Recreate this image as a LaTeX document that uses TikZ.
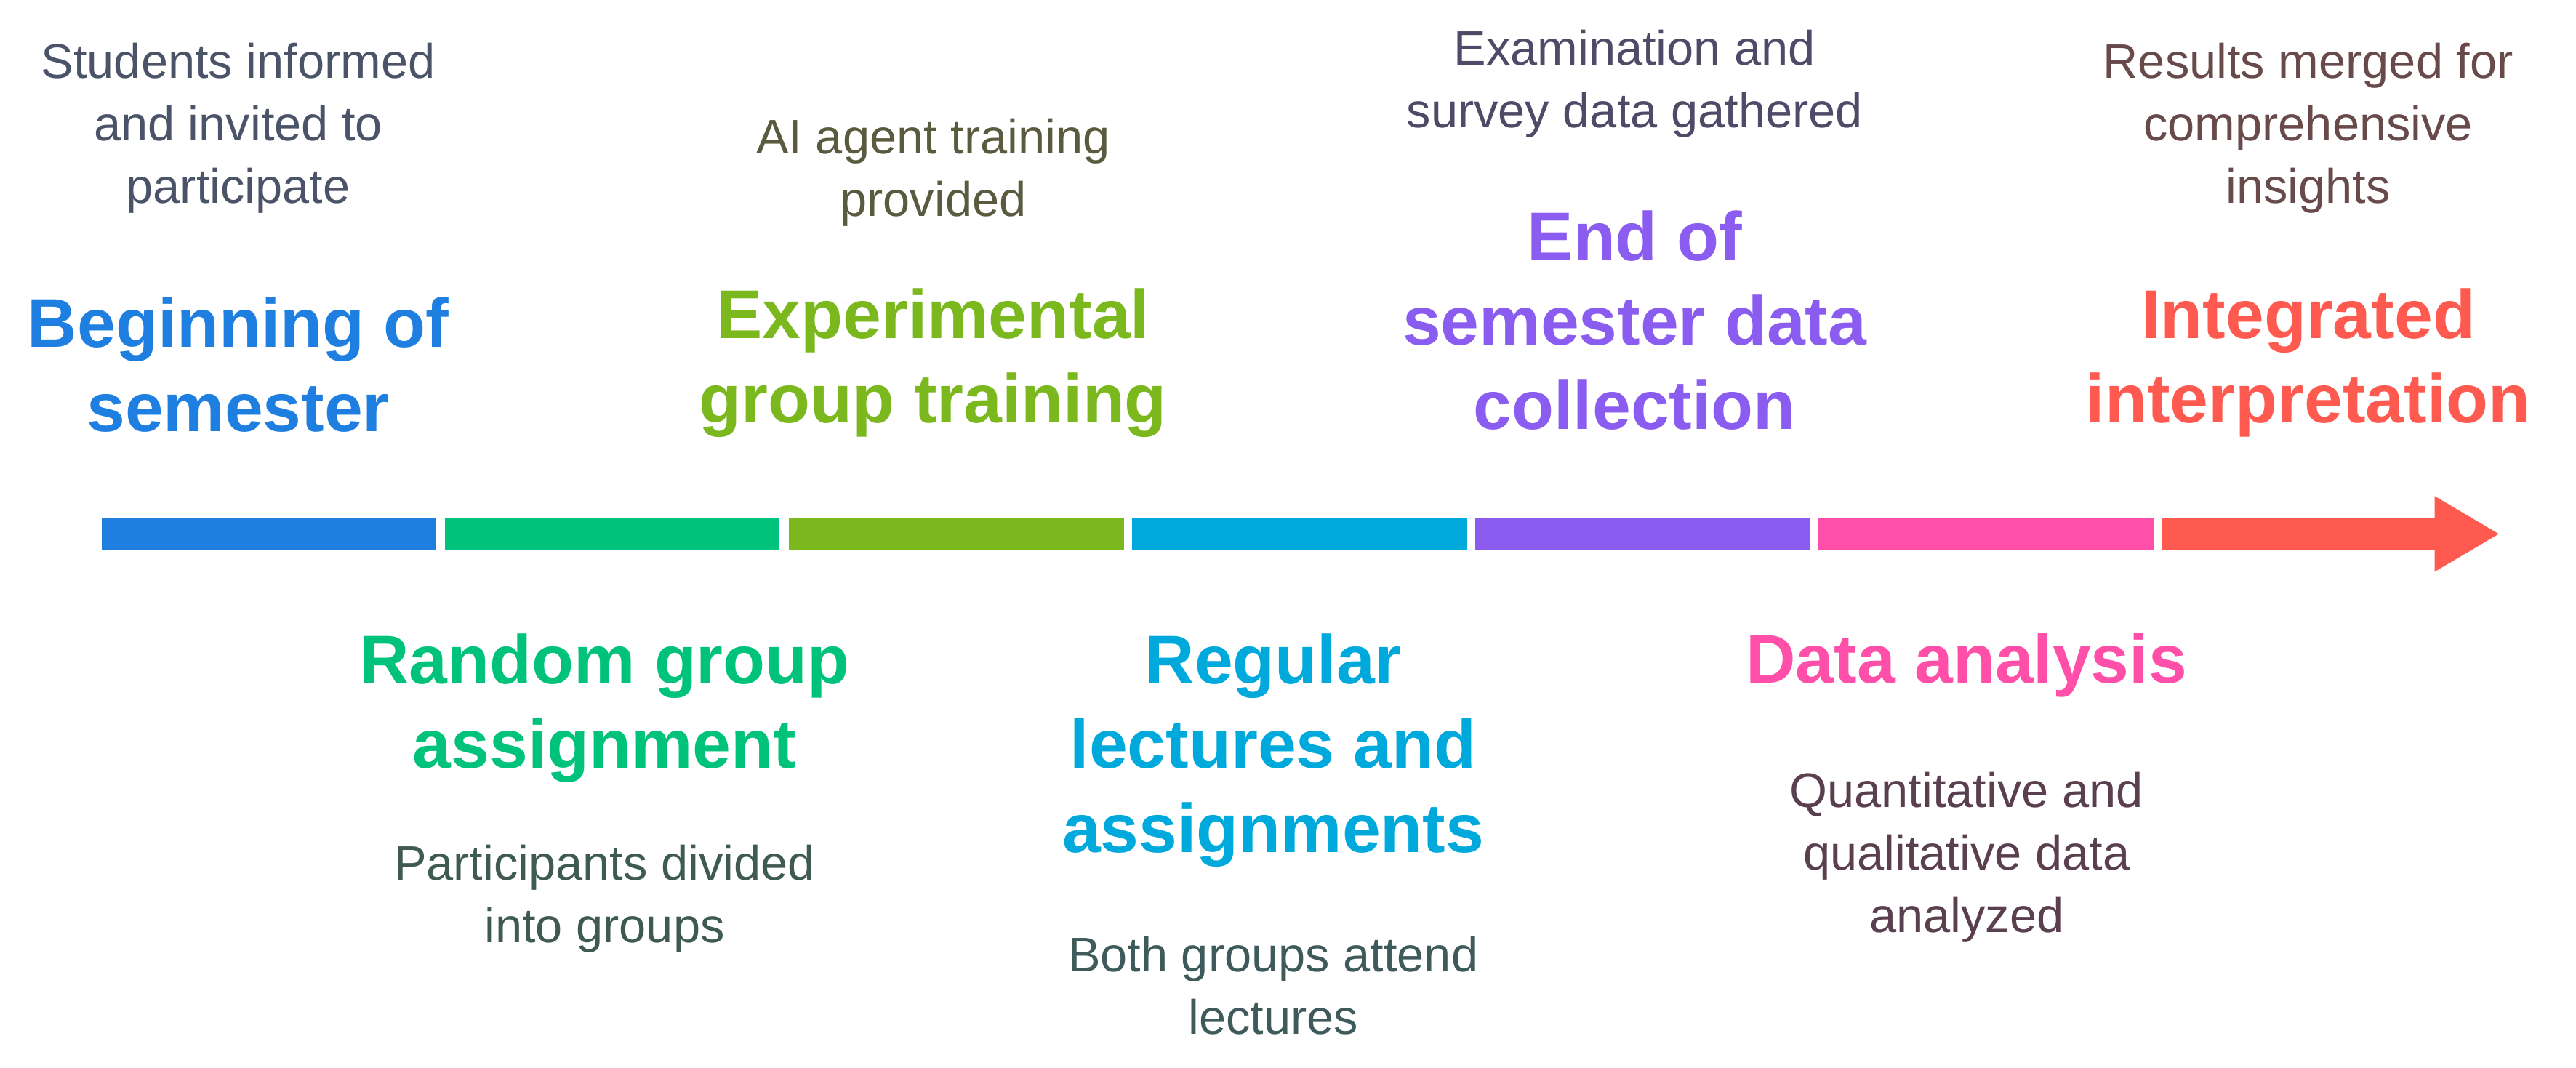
\documentclass[tikz,border=0pt]{standalone}
\usepackage{fontspec}
\setmainfont{Liberation Sans}
\begin{document}
\begin{tikzpicture}[x=0.0226cm,y=-0.0226cm,
 ttl/.style={font=\fontsize{27}{33}\selectfont\bfseries,align=center,inner sep=0},
 dsc/.style={font=\fontsize{19}{24.5}\selectfont,align=center,inner sep=0},
 seg/.style={line width=0.0226cm*20}]
\useasboundingbox (0,0) rectangle (1568,650);
\definecolor{c1}{HTML}{1E7FE0}\definecolor{c2}{HTML}{00C27A}\definecolor{c3}{HTML}{7AB81E}
\definecolor{c4}{HTML}{00A9DC}\definecolor{c5}{HTML}{8B5CF0}\definecolor{c6}{HTML}{FF4FA8}\definecolor{c7}{HTML}{FF5A4F}
\coordinate (s0) at (62,325);\coordinate (e0) at (265,325);
\coordinate (s1) at (271,325);\coordinate (e1) at (474,325);
\coordinate (s2) at (480,325);\coordinate (e2) at (684,325);
\coordinate (s3) at (689,325);\coordinate (e3) at (893,325);
\coordinate (s4) at (898,325);\coordinate (e4) at (1102,325);
\coordinate (s5) at (1107,325);\coordinate (e5) at (1311,325);
\coordinate (s6) at (1316,325);\coordinate (e6) at (1484,325);\coordinate (tip) at (1521,325);
\draw[seg,c1] (s0)--(e0); \draw[seg,c2] (s1)--(e1); \draw[seg,c3] (s2)--(e2);
\draw[seg,c4] (s3)--(e3); \draw[seg,c5] (s4)--(e4); \draw[seg,c6] (s5)--(e5);
\draw[seg,c7] (s6)--(e6);
\fill[c7] (1482,302) -- (tip) -- (1482,348) -- cycle;
\node[ttl,text=c1] (t1) at (145,222) {Beginning of\\semester};
\node[dsc,text={rgb,255:red,74;green,83;blue,104}] (d1) at (145,78) {Students informed\\and invited to\\participate};
\node[ttl,text=c2] (t2) at (368,431) {Random group\\assignment};
\node[dsc,text={rgb,255:red,63;green,90;blue,79}] (d2) at (368,547) {Participants divided\\into groups};
\node[ttl,text=c3] (t3) at (568,221) {Experimental\\group training};
\node[dsc,text={rgb,255:red,90;green,90;blue,63}] (d3) at (568,105) {AI agent training\\provided};
\node[ttl,text=c4] (t4) at (775,457) {Regular\\lectures and\\assignments};
\node[dsc,text={rgb,255:red,63;green,90;blue,90}] (d4) at (775,600) {Both groups attend\\lectures};
\node[ttl,text=c5] (t5) at (995,195) {End of\\semester data\\collection};
\node[dsc,text={rgb,255:red,79;green,74;blue,104}] (d5) at (995,51) {Examination and\\survey data gathered};
\node[ttl,text=c6] (t6) at (1197,405) {Data analysis};
\node[dsc,text={rgb,255:red,90;green,63;blue,79}] (d6) at (1197,522) {Quantitative and\\qualitative data\\analyzed};
\node[ttl,text=c7] (t7) at (1405,221) {Integrated\\interpretation};
\node[dsc,text={rgb,255:red,104;green,74;blue,74}] (d7) at (1405,78) {Results merged for\\comprehensive\\insights};
\end{tikzpicture}
\end{document}
